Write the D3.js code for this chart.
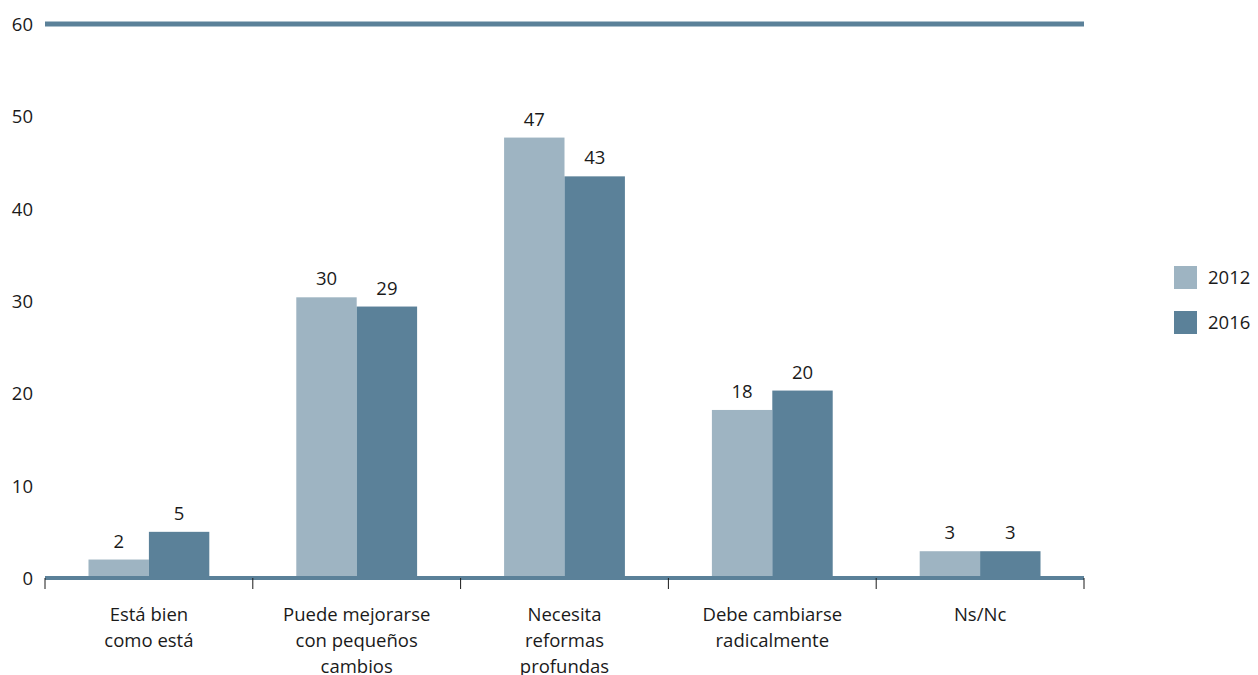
<!DOCTYPE html>
<html><head><meta charset="utf-8">
<script src="https://cdn.jsdelivr.net/npm/d3@7"></script>
<style>body{margin:0;background:#fff}svg{display:block;font-family:"Open Sans",sans-serif}</style>
</head><body><svg id="c" width="1258" height="675"></svg>
<script>
const categories = [["Está bien","como está"],["Puede mejorarse","con pequeños","cambios"],["Necesita","reformas","profundas"],["Debe cambiarse","radicalmente"],["Ns/Nc"]];
const series = ["2012","2016"];
const values2012 = [2.0, 30.4, 47.7, 18.2, 2.9];
const values2016 = [5.0, 29.4, 43.5, 20.3, 2.9];
const labels2012 = ["2","30","47","18","3"];
const labels2016 = ["5","29","43","20","3"];
const yTicks = [0,10,20,30,40,50,60];
const colors = ["#9eb4c2","#5b8199"];
const FS = 18.5;

const svg = d3.select("#c");
const x0 = d3.scaleBand().domain(d3.range(categories.length)).range([45,1084]).padding(0);
const x1 = d3.scaleBand().domain(series).range([0,x0.bandwidth()]).paddingInner(0).paddingOuter(0.72);
const y = d3.scaleLinear().domain([0,60]).range([578,24]);

// y labels
svg.append("g").selectAll("text").data(yTicks).join("text")
  .attr("x",33).attr("y",d=>y(d)+7).attr("text-anchor","end")
  .attr("font-size",FS).attr("fill","#1a1a1a").text(d=>d);

// top line
svg.append("line").attr("x1",45).attr("x2",1084).attr("y1",y(60)).attr("y2",y(60))
  .attr("stroke","#5b8199").attr("stroke-width",5);

const data = [values2012, values2016];
const labs = [labels2012, labels2016];
series.forEach((s,si)=>{
  const g = svg.append("g");
  g.selectAll("rect").data(data[si]).join("rect")
    .attr("x",(d,i)=>x0(i)+x1(s)).attr("width",x1.bandwidth())
    .attr("y",d=>y(d)).attr("height",d=>y(0)-y(d)).attr("fill",colors[si]);
  g.selectAll("text").data(data[si]).join("text")
    .attr("x",(d,i)=>x0(i)+x1(s)+x1.bandwidth()/2).attr("y",d=>y(d)-12)
    .attr("text-anchor","middle").attr("font-size",FS).attr("fill","#1a1a1a")
    .text((d,i)=>labs[si][i]);
});

// baseline
svg.append("line").attr("x1",45).attr("x2",1084).attr("y1",y(0)).attr("y2",y(0))
  .attr("stroke","#5b8199").attr("stroke-width",4);
// ticks
const bounds = d3.range(categories.length+1).map(i=> i<categories.length? x0(i): x0(categories.length-1)+x0.bandwidth());
svg.append("g").selectAll("line").data(bounds).join("line")
  .attr("x1",d=>d).attr("x2",d=>d).attr("y1",y(0)).attr("y2",y(0)+11)
  .attr("stroke","#1a1a1a").attr("stroke-width",1);

// category labels
const cl = svg.append("g").selectAll("text").data(categories).join("text")
  .attr("x",(d,i)=>x0(i)+x0.bandwidth()/2).attr("y",621)
  .attr("text-anchor","middle").attr("font-size",FS).attr("fill","#1a1a1a");
cl.selectAll("tspan").data(d=>d).join("tspan")
  .attr("x",function(){return this.parentNode.getAttribute("x");})
  .attr("dy",(d,i)=>i?26:0).text(d=>d);

// legend
const lg = svg.append("g").selectAll("g").data(series).join("g")
  .attr("transform",(d,i)=>`translate(1174,${266+i*45})`);
lg.append("rect").attr("width",23).attr("height",23).attr("fill",(d,i)=>colors[i]);
lg.append("text").attr("x",34).attr("y",18).attr("font-size",FS).attr("fill","#1a1a1a").text(d=>d);
</script></body></html>
